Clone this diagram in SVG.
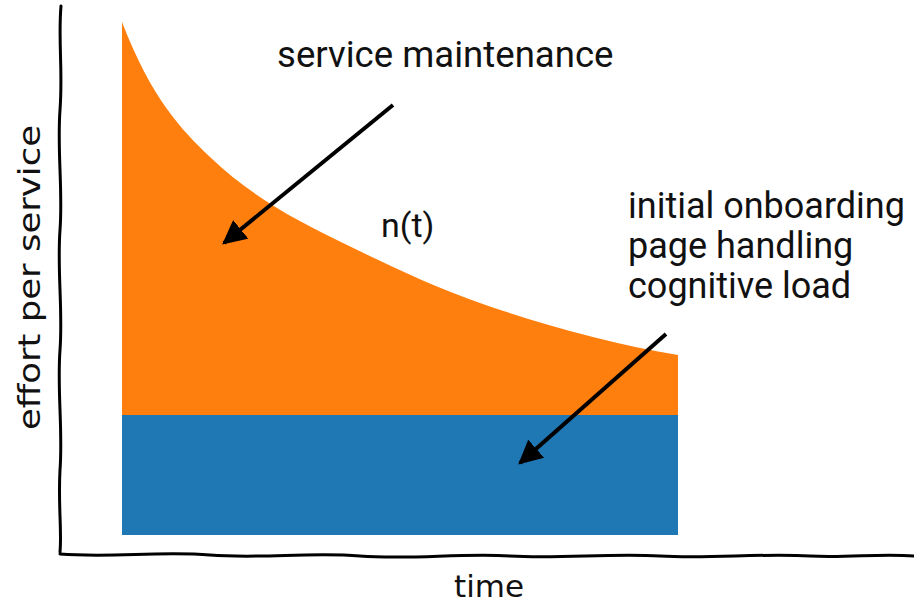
<svg xmlns="http://www.w3.org/2000/svg" width="914" height="603" viewBox="0 0 914 603">
  <defs>
    <style>
      .label { font-family: Roboto, "Liberation Sans", sans-serif; font-size: 36px; fill: #111; }
      .axis-label { font-family: "DejaVu Sans", sans-serif; font-size: 31px; fill: #111; }
      .axis { fill: none; stroke: #000; stroke-width: 3; stroke-linecap: round; }
      .pointer { fill: none; stroke: #000; stroke-width: 4; }
    </style>
    <marker id="head" viewBox="0 0 10 10" refX="9" refY="5" markerWidth="6" markerHeight="6" markerUnits="strokeWidth" orient="auto">
      <path d="M0,0 L10,5 L0,10 Z" fill="#000"/>
    </marker>
  </defs>
  <rect width="914" height="603" fill="#fff"/>

  <!-- stacked areas -->
  <g id="maintenance-area">
    <path d="M122,22 C151.3,98 180.7,129.2 210,157 C254.3,199.1 298.7,221.3 343,243 C388.7,265.4 434.3,287 480,303 C546,326.1 612,343.8 678,355 L678,416 L122,416 Z" fill="#ff7f0e"/>
  </g>
  <g id="baseline-area">
    <rect x="122" y="415" width="556" height="120" fill="#1f77b4"/>
  </g>

  <!-- hand-drawn axes -->
  <g id="axes">
    <path class="axis" d="M61,6 C58,40 63,70 60,110 C57,150 63,190 60,230 C57,270 63,310 60,350 C57,390 63,430 60,470 C58,505 62,530 60,552"/>
    <path class="axis" d="M60,554 C110,558 160,551 210,555 C260,559 310,552 360,556 C410,560 460,553 510,556 C560,559 610,553 660,556 C710,559 760,553 810,556 C850,558 880,553 914,556"/>
  </g>

  <g id="axis-labels">
    <text class="axis-label" x="454" y="597">time</text>
    <text class="axis-label" transform="translate(40,430) rotate(-90)" textLength="305" lengthAdjust="spacingAndGlyphs">effort per service</text>
  </g>

  <g id="labels">
    <text class="label" x="277" y="67" style="font-size:36.6px">service maintenance</text>
    <text class="label" x="381" y="237" style="font-size:34px">n(t)</text>
    <text class="label" x="628" y="218">initial onboarding</text>
    <text class="label" x="628" y="258">page handling</text>
    <text class="label" x="628" y="298">cognitive load</text>
  </g>

  <!-- connectors -->
  <g id="connectors">
    <line class="pointer" x1="393" y1="105" x2="224" y2="243" marker-end="url(#head)"/>
    <line class="pointer" x1="666" y1="334" x2="520" y2="463" marker-end="url(#head)"/>
  </g>
</svg>
